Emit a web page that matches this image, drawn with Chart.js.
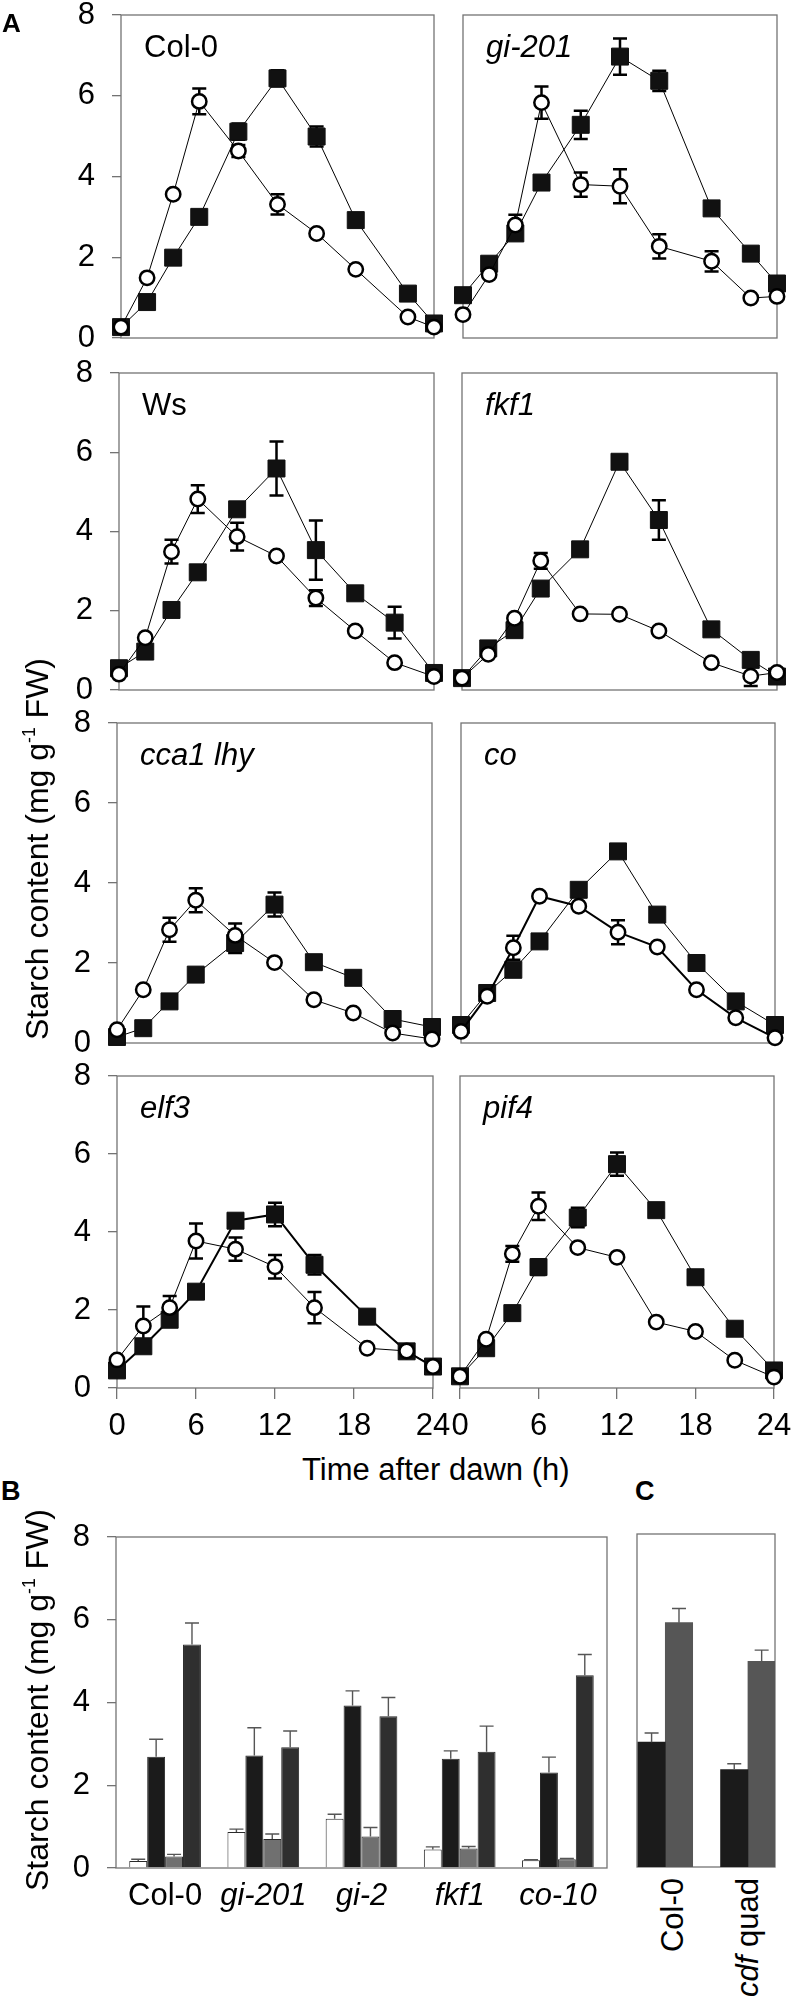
<!DOCTYPE html>
<html>
<head>
<meta charset="utf-8">
<script src="https://cdn.jsdelivr.net/npm/chart.js@4.4.0/dist/chart.umd.min.js"></script>
<style>
html, body { margin: 0; padding: 0; background: #fff; }
#fig { position: relative; width: 793px; height: 1999px; overflow: hidden;
       font-family: "Liberation Sans", Arial, sans-serif; color: #000; }
#fig canvas { position: absolute; }
.txt { position: absolute; white-space: nowrap; line-height: 1; }
.rot { position: absolute; left: 0; top: 0; white-space: nowrap; line-height: 1; transform-origin: 0 0; }
sup { font-size: 0.55em; vertical-align: 0.75em; line-height: 0; }
</style>
</head>
<body>
<div id="fig"></div>
<script>
// sampling times (h after dawn)
const tStd = [0, 2, 4, 6, 9, 12, 15, 18, 21, 24];
const tLate = [0, 2, 4, 6, 9, 12, 15, 19, 22, 24];
const tCol0 = [0, 2, 4, 6, 9, 12, 15, 18, 22, 24];

// starch, mg g-1 FW  (open circles / filled squares)
const col0Open = [0.27, 1.49, 3.56, 5.86, 4.63, 3.31, 2.59, 1.70, 0.52, 0.27];
const col0OpenErr = [0, 0, 0, 0.32, 0.15, 0.25, 0, 0, 0, 0];
const col0Filled = [0.27, 0.89, 1.99, 3.00, 5.11, 6.43, 4.99, 2.92, 1.10, 0.36];
const col0FilledErr = [0, 0, 0, 0, 0.2, 0.2, 0.25, 0.15, 0, 0];

const gi201Open = [0.58, 1.57, 2.80, 5.83, 3.80, 3.76, 2.27, 1.90, 0.99, 1.03];
const gi201OpenErr = [0, 0, 0.25, 0.4, 0.3, 0.42, 0.3, 0.25, 0, 0];
const gi201Filled = [1.06, 1.84, 2.59, 3.85, 5.28, 6.97, 6.37, 3.21, 2.09, 1.35];
const gi201FilledErr = [0, 0, 0, 0, 0.35, 0.45, 0.25, 0, 0, 0];

const wsOpen = [0.40, 1.32, 3.49, 4.82, 3.87, 3.38, 2.32, 1.49, 0.69, 0.34];
const wsOpenErr = [0, 0, 0.3, 0.35, 0.35, 0, 0.2, 0, 0, 0];
const wsFilled = [0.55, 0.97, 2.02, 2.97, 4.56, 5.59, 3.53, 2.44, 1.70, 0.43];
const wsFilledErr = [0, 0, 0, 0, 0, 0.68, 0.75, 0, 0.4, 0];

const fkf1Open = [0.30, 0.90, 1.81, 3.26, 1.92, 1.91, 1.49, 0.69, 0.35, 0.44];
const fkf1OpenErr = [0, 0, 0, 0.2, 0, 0, 0, 0, 0.25, 0];
const fkf1Filled = [0.30, 1.05, 1.51, 2.56, 3.55, 5.76, 4.29, 1.53, 0.76, 0.34];
const fkf1FilledErr = [0, 0, 0, 0, 0, 0.1, 0.5, 0, 0, 0];

const cca1Open = [0.33, 1.33, 2.83, 3.57, 2.69, 2.01, 1.08, 0.75, 0.25, 0.10];
const cca1OpenErr = [0, 0, 0.3, 0.3, 0.3, 0, 0, 0, 0, 0];
const cca1Filled = [0.15, 0.37, 1.04, 1.71, 2.50, 3.46, 2.02, 1.63, 0.60, 0.40];
const cca1FilledErr = [0, 0, 0, 0, 0.25, 0.3, 0, 0, 0, 0];

const coOpen = [0.29, 1.17, 2.38, 3.67, 3.42, 2.77, 2.40, 1.33, 0.63, 0.13];
const coOpenErr = [0, 0, 0.3, 0, 0, 0.3, 0, 0, 0, 0];
const coFilled = [0.45, 1.25, 1.83, 2.54, 3.83, 4.79, 3.21, 2.00, 1.04, 0.45];
const coFilledErr = [0, 0, 0, 0, 0, 0, 0, 0, 0, 0];

const elf3Open = [0.72, 1.59, 2.06, 3.77, 3.56, 3.11, 2.06, 1.02, 0.95, 0.55];
const elf3OpenErr = [0, 0.5, 0.3, 0.45, 0.3, 0.3, 0.4, 0, 0, 0];
const elf3Filled = [0.45, 1.07, 1.75, 2.47, 4.29, 4.45, 3.16, 1.83, 0.94, 0.55];
const elf3FilledErr = [0, 0, 0, 0, 0, 0.3, 0.25, 0, 0, 0];

const pif4Open = [0.30, 1.25, 3.44, 4.66, 3.60, 3.35, 1.69, 1.45, 0.71, 0.28];
const pif4OpenErr = [0, 0, 0.2, 0.35, 0, 0, 0, 0, 0, 0];
const pif4Filled = [0.30, 1.02, 1.92, 3.10, 4.37, 5.74, 4.56, 2.84, 1.52, 0.45];
const pif4FilledErr = [0, 0, 0, 0.2, 0.25, 0.3, 0, 0, 0, 0];

const yTicks = [0, 2, 4, 6, 8];
const xTicks = [0, 6, 12, 18, 24];

// panel B
const bCategories = ['Col-0', 'gi-201', 'gi-2', 'fkf1', 'co-10'];
const bWhite = [0.17, 0.87, 1.19, 0.45, 0.19];
const bWhiteErr = [0.04, 0.07, 0.11, 0.06, 0.01];
const bBlack = [2.69, 2.72, 3.93, 2.64, 2.31];
const bBlackErr = [0.42, 0.67, 0.35, 0.19, 0.37];
const bGray = [0.28, 0.70, 0.76, 0.47, 0.21];
const bGrayErr = [0.05, 0.12, 0.22, 0.05, 0.02];
const bDark = [5.40, 2.92, 3.67, 2.81, 4.66];
const bDarkErr = [0.52, 0.39, 0.45, 0.62, 0.50];

// panel C
const cCategories = ['Col-0', 'cdf quad'];
const cBlack = [3.00, 2.34];
const cBlackErr = [0.22, 0.14];
const cGray = [5.87, 4.94];
const cGrayErr = [0.34, 0.27];

const panels = [
  { name: 'Col-0', italic: false, t: tCol0, open: col0Open, openErr: col0OpenErr, filled: col0Filled, filledErr: col0FilledErr },
  { name: 'gi-201', italic: true, t: tLate, open: gi201Open, openErr: gi201OpenErr, filled: gi201Filled, filledErr: gi201FilledErr },
  { name: 'Ws', italic: false, t: tStd, open: wsOpen, openErr: wsOpenErr, filled: wsFilled, filledErr: wsFilledErr },
  { name: 'fkf1', italic: true, t: tLate, open: fkf1Open, openErr: fkf1OpenErr, filled: fkf1Filled, filledErr: fkf1FilledErr },
  { name: 'cca1 lhy', italic: true, t: tStd, open: cca1Open, openErr: cca1OpenErr, filled: cca1Filled, filledErr: cca1FilledErr },
  { name: 'co', italic: true, t: tStd, open: coOpen, openErr: coOpenErr, filled: coFilled, filledErr: coFilledErr },
  { name: 'elf3', italic: true, t: tLate, open: elf3Open, openErr: elf3OpenErr, filled: elf3Filled, filledErr: elf3FilledErr },
  { name: 'pif4', italic: true, t: tStd, open: pif4Open, openErr: pif4OpenErr, filled: pif4Filled, filledErr: pif4FilledErr }
];

// layout (pixels)
const rows = [
  { top: 15, bottom: 338, left: [121, 434], right: [463, 777] },
  { top: 373, bottom: 690, left: [119, 434], right: [462, 777] },
  { top: 723, bottom: 1043, left: [117, 432], right: [461, 775] },
  { top: 1076, bottom: 1388, left: [117, 433], right: [460, 774] }
];
const lineWidths = { 'co': [1, 2], 'elf3': [2, 1] };
const FRAME = '#737373';
const FONT = '"Liberation Sans", Arial, sans-serif';

Chart.defaults.font.family = FONT;
Chart.defaults.font.size = 31;
Chart.defaults.color = '#000';
Chart.defaults.animation = false;

const fig = document.getElementById('fig');

function addCanvas(left, top, w, h) {
  const c = document.createElement('canvas');
  c.width = w; c.height = h;
  c.style.left = left + 'px'; c.style.top = top + 'px';
  c.style.width = w + 'px'; c.style.height = h + 'px';
  fig.appendChild(c);
  return c;
}

function addText(html, left, top, size, style) {
  const d = document.createElement('div');
  d.className = 'txt';
  d.innerHTML = html;
  d.style.left = left + 'px'; d.style.top = top + 'px';
  d.style.fontSize = size + 'px';
  Object.assign(d.style, style || {});
  fig.appendChild(d);
  return d;
}

// rotated text; anchor = 'center' or 'end' (end of text at point)
function addRotText(html, x, y, size, anchor, style) {
  const d = document.createElement('div');
  d.className = 'rot';
  d.innerHTML = html;
  d.style.fontSize = size + 'px';
  const tr = anchor === 'end' ? 'translate(-100%, -50%)' : 'translate(-50%, -50%)';
  d.style.transform = `translate(${x}px, ${y}px) rotate(-90deg) ${tr}`;
  Object.assign(d.style, style || {});
  fig.appendChild(d);
}

const framePlugin = {
  id: 'frame',
  beforeDatasetsDraw(chart) {
    const a = chart.chartArea, ctx = chart.ctx;
    ctx.save();
    ctx.strokeStyle = FRAME;
    ctx.lineWidth = 1.3;
    ctx.strokeRect(a.left, a.top, a.right - a.left, a.bottom - a.top);
    ctx.restore();
  }
};

// symmetric error bars for the time courses
const lineErrPlugin = {
  id: 'lineErr',
  beforeDatasetsDraw(chart) {
    const ctx = chart.ctx, ys = chart.scales.y;
    chart.data.datasets.forEach((ds, i) => {
      if (!ds.errors) return;
      const meta = chart.getDatasetMeta(i);
      ctx.save();
      ctx.strokeStyle = '#000';
      ctx.lineWidth = 2.5;
      meta.data.forEach((pt, j) => {
        const e = ds.errors[j];
        if (!e) return;
        const v = ds.data[j].y;
        const y1 = ys.getPixelForValue(v + e), y2 = ys.getPixelForValue(v - e);
        ctx.beginPath();
        ctx.moveTo(pt.x, y1); ctx.lineTo(pt.x, y2);
        ctx.moveTo(pt.x - 7, y1); ctx.lineTo(pt.x + 7, y1);
        ctx.moveTo(pt.x - 7, y2); ctx.lineTo(pt.x + 7, y2);
        ctx.stroke();
      });
      ctx.restore();
    });
  }
};

// upper error bars for the bar charts
const barErrPlugin = {
  id: 'barErr',
  afterDatasetsDraw(chart) {
    const ctx = chart.ctx, ys = chart.scales.y;
    chart.data.datasets.forEach((ds, i) => {
      if (!ds.errors) return;
      const meta = chart.getDatasetMeta(i);
      ctx.save();
      ctx.strokeStyle = '#555';
      ctx.lineWidth = 1.4;
      meta.data.forEach((bar, j) => {
        const e = ds.errors[j];
        if (!e) return;
        const raw = ds.data[j];
        const v = typeof raw === 'object' ? raw.y : raw;
        const yTop = ys.getPixelForValue(v + e);
        ctx.beginPath();
        ctx.moveTo(bar.x, bar.y); ctx.lineTo(bar.x, yTop);
        ctx.moveTo(bar.x - 7, yTop); ctx.lineTo(bar.x + 7, yTop);
        ctx.stroke();
      });
      ctx.restore();
    });
  }
};

function linePanel(p, row, col) {
  const R = rows[row];
  const [x0, x1] = col === 0 ? R.left : R.right;
  const y0 = R.top, y1 = R.bottom;
  const showY = col === 0, showX = row === 3;
  const yW = showY ? 70 : 0;
  const xH = showX ? 62 : 0;
  // y tick labels add (half label height + tick padding) above and below the axis
  const pad = { top: 40, right: 30, left: showY ? 0 : 20, bottom: showX ? 0 : 40 };
  const left = x0 - yW - pad.left, top = y0 - pad.top;
  const w = (x1 - x0) + yW + pad.left + pad.right;
  const h = (y1 - y0) + pad.top + pad.bottom + xH;
  const canvas = addCanvas(left, top, w, h);
  const lw = lineWidths[p.name] || [1, 1];

  new Chart(canvas, {
    type: 'line',
    data: {
      datasets: [
        {
          data: p.t.map((t, i) => ({ x: t, y: p.open[i] })),
          errors: p.openErr,
          borderColor: '#000', borderWidth: lw[1],
          pointStyle: 'circle', pointRadius: 7.2,
          pointBackgroundColor: '#fff', pointBorderColor: '#000', pointBorderWidth: 2.5,
          tension: 0, clip: false
        },
        {
          data: p.t.map((t, i) => ({ x: t, y: p.filled[i] })),
          errors: p.filledErr,
          borderColor: '#000', borderWidth: lw[0],
          pointStyle: 'rect', pointRadius: 12,
          pointBackgroundColor: '#111', pointBorderColor: '#111', pointBorderWidth: 1,
          tension: 0, clip: false
        }
      ]
    },
    options: {
      responsive: false,
      events: [],
      layout: { padding: pad },
      plugins: { legend: { display: false }, tooltip: { enabled: false } },
      scales: {
        x: {
          type: 'linear', min: 0, max: 24, display: showX,
          afterFit: s => { s.height = xH; },
          afterBuildTicks: s => { s.ticks = xTicks.map(v => ({ value: v })); },
          ticks: { padding: 9, maxRotation: 0, autoSkip: false },
          grid: { drawOnChartArea: false, tickLength: 11, color: FRAME, lineWidth: 1.3 },
          border: { display: false }
        },
        y: {
          type: 'linear', min: 0, max: 8, display: showY,
          afterFit: s => { s.width = yW; },
          afterBuildTicks: s => { s.ticks = yTicks.map(v => ({ value: v })); },
          ticks: { padding: 17 },
          grid: { drawOnChartArea: false, tickLength: 9, color: FRAME, lineWidth: 1.3 },
          border: { display: false }
        }
      }
    },
    plugins: [framePlugin, lineErrPlugin]
  });

  addText(p.name, x0 + 23, y0 + 16, 31, { fontStyle: p.italic ? 'italic' : 'normal' });
}

panels.forEach((p, i) => linePanel(p, Math.floor(i / 2), i % 2));

// panel B
(function () {
  const x0 = 116, x1 = 607, y0 = 1537, y1 = 1868;
  const yW = 76, xH = 62;
  const pad = { top: 40, right: 20, left: 0, bottom: 0 };
  const canvas = addCanvas(x0 - yW, y0 - pad.top, (x1 - x0) + yW + pad.right, (y1 - y0) + pad.top + xH);
  const bar = (data, errors, fill) => ({
    data, errors, backgroundColor: fill, borderColor: '#2a2a2a', borderWidth: 1
  });
  new Chart(canvas, {
    type: 'bar',
    data: {
      labels: bCategories,
      datasets: [
        bar(bWhite, bWhiteErr, '#ffffff'),
        bar(bBlack, bBlackErr, '#1b1b1b'),
        bar(bGray, bGrayErr, '#707070'),
        bar(bDark, bDarkErr, '#2f2f2f')
      ]
    },
    options: {
      responsive: false,
      events: [],
      layout: { padding: pad },
      datasets: { bar: { categoryPercentage: 0.73, barPercentage: 1 } },
      plugins: { legend: { display: false }, tooltip: { enabled: false } },
      scales: {
        x: {
          afterFit: s => { s.height = xH; },
          ticks: {
            padding: 10, maxRotation: 0, autoSkip: false,
            font: ctx => ({ size: 31, style: ctx.index === 0 ? 'normal' : 'italic' })
          },
          grid: { display: false, drawTicks: false },
          border: { display: false }
        },
        y: {
          min: 0, max: 8,
          afterFit: s => { s.width = yW; },
          afterBuildTicks: s => { s.ticks = yTicks.map(v => ({ value: v })); },
          ticks: { padding: 17 },
          grid: { drawOnChartArea: false, tickLength: 9, color: FRAME, lineWidth: 1.3 },
          border: { display: false }
        }
      }
    },
    plugins: [framePlugin, barErrPlugin]
  });
})();

// panel C
(function () {
  const x0 = 637, x1 = 775, y0 = 1534, y1 = 1867;
  const slot = [0.205, 0.804]; // centre of each group along the axis (0..1)
  const pad = 4;
  const canvas = addCanvas(x0 - pad, y0 - pad, (x1 - x0) + 2 * pad, (y1 - y0) + 2 * pad);
  new Chart(canvas, {
    type: 'bar',
    data: {
      datasets: [
        {
          data: cBlack.map((v, i) => ({ x: slot[i], y: v })), errors: cBlackErr,
          backgroundColor: '#1b1b1b', borderColor: '#1b1b1b', borderWidth: 0
        },
        {
          data: cGray.map((v, i) => ({ x: slot[i], y: v })), errors: cGrayErr,
          backgroundColor: '#565656', borderColor: '#565656', borderWidth: 0
        }
      ]
    },
    options: {
      responsive: false,
      events: [],
      layout: { padding: pad },
      datasets: { bar: { barThickness: 27.4 } },
      plugins: { legend: { display: false }, tooltip: { enabled: false } },
      scales: {
        x: { type: 'linear', min: 0, max: 1, offset: false, display: false },
        y: { min: 0, max: 8, display: false }
      }
    },
    plugins: [framePlugin, barErrPlugin]
  });
  addRotText(cCategories[0], 672, 1878, 31, 'end');
  addRotText('<i>cdf</i> quad', 747, 1878, 31, 'end');
})();

// titles and panel letters
addText('A', 2, 10, 26, { fontWeight: 'bold' });
addText('B', 1, 1478, 27, { fontWeight: 'bold' });
addText('C', 635, 1478, 27, { fontWeight: 'bold' });
addRotText('Starch content (mg g<sup>-1</sup> FW)', 37, 849, 32, 'center');
addRotText('Starch content (mg g<sup>-1</sup> FW)', 37, 1700, 32, 'center');
const tt = addText('Time after dawn (h)', 0, 0, 31);
tt.style.left = (436 - tt.offsetWidth / 2) + 'px';
tt.style.top = (1469 - tt.offsetHeight / 2) + 'px';
</script>
</body>
</html>
